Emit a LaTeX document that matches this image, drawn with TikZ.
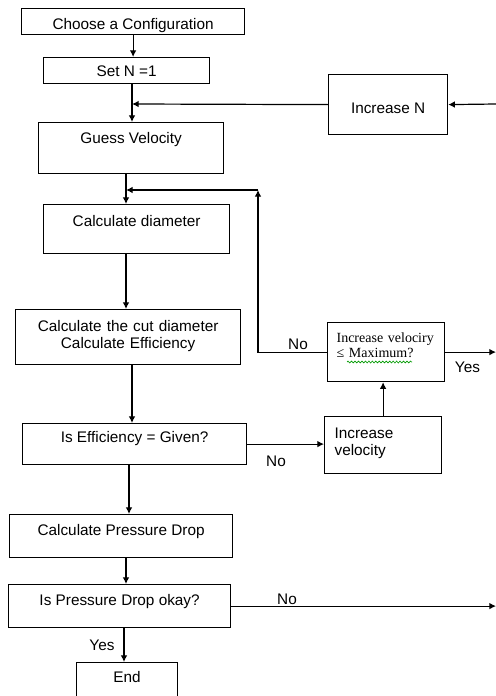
\documentclass[tikz,border=0pt]{standalone}
\usepackage{fontspec}
\setmainfont{Liberation Sans}
\newfontfamily\serifbox{Liberation Serif}
\usetikzlibrary{arrows.meta,decorations.pathmorphing}
\begin{document}
\begin{tikzpicture}[x=0.75pt,y=-0.75pt,
  line width=0.9pt,
  every node/.style={font=\fontsize{11.5}{12.75}\selectfont},
  box/.style={draw, anchor=north west, inner sep=0pt},
  arr/.style={-{Latex[length=5pt,width=5pt]}},
  lbl/.style={anchor=base, inner sep=0pt},
  spell/.style={green!60!black, line width=0.5pt, decorate,
    decoration={snake, amplitude=0.7pt, segment length=2.6pt}}]
\useasboundingbox (0,0) rectangle (496,696);
\clip (0,0) rectangle (496,696);

% process boxes
\node[box, minimum width=167.25pt, minimum height=19.5pt,
  text height=15.375pt, text depth=4.125pt] (conf) at (21,8) {Choose a Configuration};
\node[box, minimum width=124.5pt, minimum height=19.5pt,
  text height=14.25pt, text depth=5.25pt] (setn) at (43,57) {Set N =1};
\node[box, minimum width=89.25pt, minimum height=45pt,
  text height=29.25pt, text depth=15.75pt] (incn) at (328,74) {Increase N};
\node[box, minimum width=138.75pt, minimum height=38.25pt,
  text height=15.75pt, text depth=22.5pt] (guess) at (38,122) {Guess Velocity};
\node[box, minimum width=139.5pt, minimum height=36.75pt,
  text height=16.125pt, text depth=20.625pt] (diam) at (43,204) {Calculate diameter};
\node[box, minimum width=168.75pt, minimum height=41.25pt, text width=168.75pt,
  align=center, text height=16.125pt, text depth=25.125pt] (cut) at (15,309)
  {Calculate the cut diameter\\Calculate Efficiency};
\node[box, minimum width=168pt, minimum height=30.75pt,
  text height=13.875pt, text depth=16.875pt] (eff) at (22,423) {Is Efficiency = Given?};
\node[box, minimum width=87.75pt, minimum height=42.75pt, inner xsep=7.5pt,
  text width=72.75pt, align=left, text height=16.125pt, text depth=26.625pt]
  (incv) at (324,416) {Increase\\velocity};
\node[box, minimum width=87.75pt, minimum height=44.25pt, inner xsep=6.75pt,
  text width=74.25pt, align=left, text height=14.625pt, text depth=29.625pt,
  font=\serifbox\fontsize{10.5}{11.25}\selectfont]
  (dec) at (327,322) {Increase velociry\\≤ Maximum?};
\node[box, minimum width=167.25pt, minimum height=32.25pt,
  text height=15.375pt, text depth=16.875pt] (pres) at (9,514) {Calculate Pressure Drop};
\node[box, minimum width=166.5pt, minimum height=32.25pt,
  text height=15.375pt, text depth=16.875pt] (pok) at (8,584) {Is Pressure Drop okay?};
\node[box, minimum width=75.75pt, minimum height=37.5pt,
  text height=15pt, text depth=22.5pt] (end) at (76,662) {End};

\draw[spell] (347,362) -- (412,362);

% junctions and free ends
\coordinate (j1) at (132,104);
\coordinate (j2) at (126,190);
\coordinate (j3) at (129,480);
\coordinate (j4) at (124,640);
\coordinate (k) at (258,190);
\coordinate (rin) at (496,104);
\coordinate (rdec) at (496,350);
\coordinate (rpok) at (496,608);

% connectors
\draw[arr] (conf.south) -- (conf.south |- setn.north);
\draw[arr] (setn.south -| j1) -- (guess.north -| j1);
\draw[arr] (rin) -- (incn.east);
\draw[arr] (incn.west) -- (j1);
\draw[arr] (guess.south -| j2) -- (diam.north -| j2);
\draw[arr] (diam.south -| j2) -- (cut.north -| j2);
\draw[arr] (dec.west) -- (dec.west -| k) -- (k);
\draw[arr] (k) -- (j2);
\draw[arr] (cut.south -| j1) -- (eff.north -| j1);
\draw[arr] (eff.east) -- (eff.east -| incv.west);
\draw[arr] (incv.north) -- (incv.north |- dec.south);
\draw[arr] (dec.east) -- (dec.east -| rdec);
\draw[arr] (eff.south -| j3) -- (pres.north -| j3);
\draw[arr] (pres.south -| j2) -- (pok.north -| j2);
\draw[arr] (pok.east) -- (pok.east -| rpok);
\draw[arr] (pok.south -| j4) -- (end.north -| j4);

% branch labels
\node[lbl] (nodec) at (298,349.5) {No};
\node[lbl] (yesdec) at (467.5,372) {Yes};
\node[lbl] (noeff) at (276,466) {No};
\node[lbl] (nopok) at (287,604) {No};
\node[lbl] (yespok) at (102,650) {Yes};
\end{tikzpicture}
\end{document}
